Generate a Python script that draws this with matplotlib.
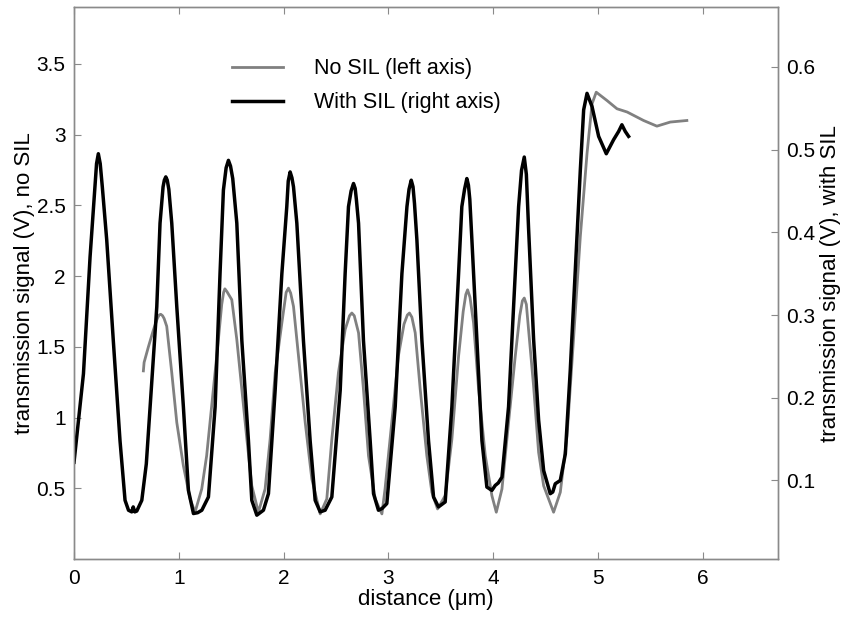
import matplotlib
matplotlib.use("Agg")
import matplotlib.pyplot as plt
from matplotlib.ticker import FuncFormatter

plt.rcParams["font.family"] = ["Liberation Sans", "DejaVu Sans"]

# ── data ──────────────────────────────────────────────────────────────
# No SIL (left axis)
x_nosil = [0.662, 0.669, 0.710, 0.758, 0.795, 0.812, 0.828, 0.845, 0.860, 0.885,
           0.933, 0.981, 1.044, 1.108, 1.155, 1.219, 1.266, 1.330, 1.378, 1.410,
           1.428, 1.440, 1.460, 1.506, 1.554, 1.602, 1.650, 1.697, 1.760, 1.824,
           1.872, 1.920, 1.984, 2.025, 2.047, 2.068, 2.095, 2.143, 2.207, 2.270,
           2.350, 2.413, 2.461, 2.524, 2.588, 2.630, 2.652, 2.675, 2.716, 2.763,
           2.811, 2.875, 2.939, 2.969, 3.033, 3.096, 3.150, 3.182, 3.202, 3.225,
           3.257, 3.305, 3.368, 3.416, 3.470, 3.543, 3.607, 3.671, 3.715, 3.740,
           3.757, 3.780, 3.814, 3.862, 3.926, 3.989, 4.031, 4.085, 4.148, 4.212,
           4.255, 4.280, 4.298, 4.318, 4.339, 4.387, 4.435, 4.483, 4.578, 4.642,
           4.706, 4.770, 4.833, 4.897, 4.945, 4.985, 5.088, 5.183, 5.280, 5.437,
           5.564, 5.692, 5.850]
y_nosil = [1.33, 1.39, 1.50, 1.62, 1.70, 1.725, 1.73, 1.72, 1.70, 1.645,
           1.317, 0.965, 0.659, 0.425, 0.331, 0.495, 0.730, 1.199, 1.551, 1.80,
           1.885, 1.91, 1.89, 1.833, 1.551, 1.199, 0.847, 0.518, 0.331, 0.495,
           0.847, 1.317, 1.669, 1.885, 1.915, 1.88, 1.786, 1.434, 0.965, 0.566,
           0.319, 0.425, 0.847, 1.317, 1.622, 1.72, 1.739, 1.72, 1.599, 1.199,
           0.730, 0.425, 0.319, 0.495, 0.965, 1.434, 1.66, 1.725, 1.739, 1.71,
           1.599, 1.199, 0.730, 0.472, 0.354, 0.448, 0.847, 1.434, 1.75, 1.87,
           1.903, 1.85, 1.669, 1.199, 0.730, 0.448, 0.331, 0.495, 0.965, 1.434,
           1.72, 1.825, 1.845, 1.80, 1.622, 1.223, 0.754, 0.518, 0.331, 0.472,
           0.870, 1.575, 2.279, 2.866, 3.218, 3.300, 3.241, 3.183, 3.160, 3.100,
           3.060, 3.089, 3.100]

# With SIL (right axis)
x_sil = [0.000, 0.090, 0.153, 0.200, 0.215, 0.232, 0.250, 0.270, 0.312, 0.375,
         0.439, 0.487, 0.520, 0.551, 0.565, 0.580, 0.599, 0.647, 0.690, 0.726,
         0.790, 0.821, 0.850, 0.862, 0.876, 0.890, 0.905, 0.933, 0.981, 1.044,
         1.092, 1.140, 1.180, 1.220, 1.283, 1.347, 1.394, 1.426, 1.452, 1.474,
         1.494, 1.515, 1.554, 1.602, 1.665, 1.697, 1.745, 1.808, 1.856, 1.920,
         1.984, 2.031, 2.045, 2.063, 2.080, 2.095, 2.127, 2.190, 2.254, 2.302,
         2.350, 2.397, 2.461, 2.541, 2.588, 2.620, 2.645, 2.668, 2.684, 2.695,
         2.716, 2.763, 2.827, 2.859, 2.906, 2.940, 2.986, 3.066, 3.130, 3.178,
         3.198, 3.219, 3.236, 3.250, 3.273, 3.321, 3.384, 3.432, 3.479, 3.543,
         3.607, 3.671, 3.702, 3.728, 3.750, 3.765, 3.778, 3.798, 3.846, 3.894,
         3.941, 3.989, 4.021, 4.050, 4.085, 4.148, 4.212, 4.244, 4.272, 4.298,
         4.318, 4.339, 4.387, 4.435, 4.483, 4.546, 4.570, 4.594, 4.642, 4.690,
         4.737, 4.785, 4.833, 4.865, 4.897, 4.945, 5.008, 5.081, 5.151, 5.199,
         5.230, 5.262, 5.294]
y_sil = [0.122, 0.229, 0.370, 0.455, 0.483, 0.495, 0.483, 0.455, 0.391, 0.269,
         0.148, 0.076, 0.064, 0.062, 0.068, 0.062, 0.063, 0.076, 0.120, 0.189,
         0.310, 0.411, 0.455, 0.463, 0.467, 0.463, 0.452, 0.411, 0.310, 0.189,
         0.088, 0.060, 0.061, 0.064, 0.080, 0.189, 0.351, 0.451, 0.478, 0.487,
         0.480, 0.465, 0.411, 0.269, 0.148, 0.076, 0.058, 0.064, 0.084, 0.209,
         0.350, 0.431, 0.462, 0.473, 0.466, 0.455, 0.411, 0.269, 0.148, 0.076,
         0.062, 0.064, 0.080, 0.209, 0.350, 0.431, 0.450, 0.459, 0.453, 0.440,
         0.411, 0.269, 0.148, 0.084, 0.064, 0.066, 0.072, 0.189, 0.350, 0.431,
         0.452, 0.463, 0.455, 0.435, 0.391, 0.269, 0.148, 0.080, 0.068, 0.074,
         0.189, 0.350, 0.431, 0.452, 0.465, 0.457, 0.440, 0.391, 0.269, 0.148,
         0.092, 0.088, 0.094, 0.097, 0.104, 0.189, 0.350, 0.431, 0.475, 0.491,
         0.470, 0.405, 0.271, 0.173, 0.112, 0.084, 0.086, 0.096, 0.100, 0.132,
         0.233, 0.354, 0.475, 0.548, 0.568, 0.552, 0.516, 0.495, 0.512, 0.522,
         0.530, 0.522, 0.516]

x_ticks = [0, 1, 2, 3, 4, 5, 6]
left_ticks = [0.5, 1, 1.5, 2, 2.5, 3, 3.5]
right_ticks = [0.1, 0.2, 0.3, 0.4, 0.5, 0.6]

C_GRAY = "#808080"
C_AXIS = "#8a8a8a"
FS = 15
FS_LBL = 16

fig = plt.figure(figsize=(8.46, 6.21), dpi=100)
ax = fig.add_axes([0.0875, 0.0998, 0.8321, 0.8884])
ax2 = ax.twinx()

l1, = ax.plot(x_nosil, y_nosil, color=C_GRAY, lw=2.0, label="No SIL (left axis)")
l2, = ax2.plot(x_sil, y_sil, color="black", lw=2.5, label="With SIL (right axis)")

ax.set_xlim(0, 6.72)
ax.set_ylim(0, 3.9)
ax2.set_ylim(0.005, 0.672)

fmt = FuncFormatter(lambda v, p: f"{v:g}")
ax.set_xticks(x_ticks)
ax.set_yticks(left_ticks)
ax2.set_yticks(right_ticks)
ax.xaxis.set_major_formatter(fmt)
ax.yaxis.set_major_formatter(fmt)
ax2.yaxis.set_major_formatter(fmt)

for a in (ax, ax2):
    for s in a.spines.values():
        s.set_color(C_AXIS)
        s.set_linewidth(1.0)
ax.tick_params(axis="x", direction="in", length=5, color=C_AXIS, labelsize=FS,
               top=True, pad=7)
ax.tick_params(axis="y", direction="in", length=5, color=C_AXIS, labelsize=FS,
               right=False, pad=6)
ax2.tick_params(axis="y", direction="in", length=5, color=C_AXIS, labelsize=FS,
                pad=6)

ax.set_xlabel("distance (\u03bcm)", fontsize=FS_LBL, labelpad=1)
ax.set_ylabel("transmission signal (V), no SIL", fontsize=FS_LBL, labelpad=1)
ax2.set_ylabel("transmission signal (V), with SIL", fontsize=FS_LBL,
               rotation=90, labelpad=3)

ax2.legend(handles=[l1, l2], loc="upper left", bbox_to_anchor=(0.224, 0.908),
           frameon=False, fontsize=15.5, handlelength=2.4, handletextpad=1.4,
           labelspacing=0.62, borderpad=0, borderaxespad=0)

fig.savefig("out.png", dpi=100, facecolor="white")
